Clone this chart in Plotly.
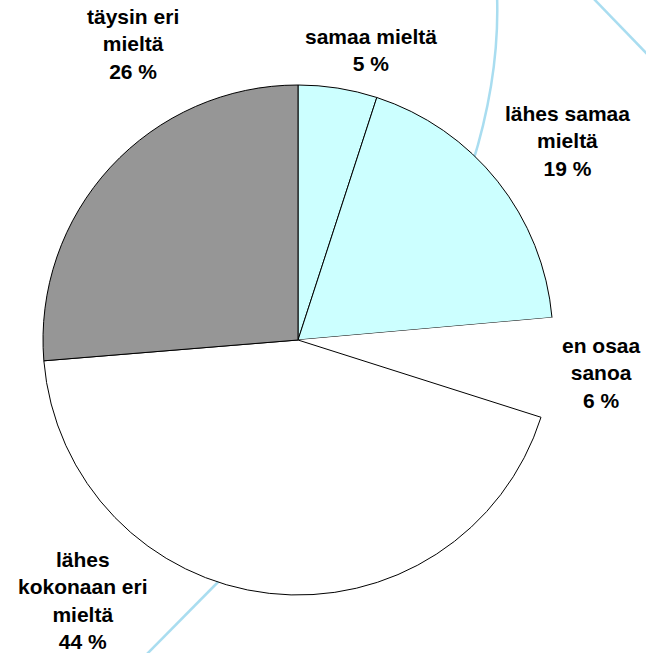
import plotly.graph_objects as go

# ---- data ----
labels = ["samaa mieltä", "lähes samaa mieltä", "en osaa sanoa",
          "lähes kokonaan eri mieltä", "täysin eri mieltä"]
values = [5.0, 18.6, 6.3, 43.8, 26.3]
pct_text = ["5 %", "19 %", "6 %", "44 %", "26 %"]
label_lines = [["samaa mieltä"], ["lähes samaa", "mieltä"], ["en osaa", "sanoa"],
               ["lähes", "kokonaan eri", "mieltä"], ["täysin eri", "mieltä"]]
colors = ["#CCFFFF", "#CCFFFF", "#FFFFFF", "#FFFFFF", "#969696"]
line_widths = [1, 1, 0, 1, 1]

W, H = 646, 653
cx, cy, r = 298, 340, 255


def px(x):
    return x / W


def py(y):
    return 1 - y / H


fig = go.Figure()
fig.add_trace(go.Pie(
    labels=labels, values=values, sort=False, direction="clockwise", rotation=0,
    marker=dict(colors=colors, line=dict(color="black", width=line_widths)),
    textinfo="none", hoverinfo="label+percent", showlegend=False,
    domain=dict(x=[px(cx - r), px(cx + r)], y=[py(cy + r), py(cy - r)]),
))

# label positions (pixel centres of text blocks)
label_pos = [(371, 50), (567, 141), (601, 373), (83, 600), (133, 44)]
for lines, pct, (lx, ly) in zip(label_lines, pct_text, label_pos):
    fig.add_annotation(
        x=px(lx), y=py(ly), xref="paper", yref="paper",
        text="<br>".join(lines + [pct]), showarrow=False,
        xanchor="center", yanchor="middle", align="center",
        font=dict(family="Arial, Liberation Sans, sans-serif", size=21,
                  color="black", weight="bold"),
    )

# decorative light-blue lines behind the pie
blue = "#A9DDF0"
paths = [
    [("M", 497, -5), ("Q", 500, 76, 472, 165)],
    [("M", 592, -3), ("L", 650, 57)],
    [("M", 225, 575), ("L", 144, 657)],
]
for p in paths:
    d = ""
    for seg in p:
        cmd = seg[0]
        coords = seg[1:]
        pts = []
        for i in range(0, len(coords), 2):
            pts.append(f"{px(coords[i]):.5f},{py(coords[i+1]):.5f}")
        d += cmd + " " + " ".join(pts) + " "
    fig.add_shape(type="path", path=d.strip(), xref="paper", yref="paper",
                  line=dict(color=blue, width=2.5), layer="below")

fig.update_layout(
    width=W, height=H, margin=dict(l=0, r=0, t=0, b=0),
    paper_bgcolor="white", plot_bgcolor="white",
)

fig.write_html("out.html", config={"displayModeBar": False},
               post_script="document.body.style.margin='0';document.body.style.overflow='hidden';")
